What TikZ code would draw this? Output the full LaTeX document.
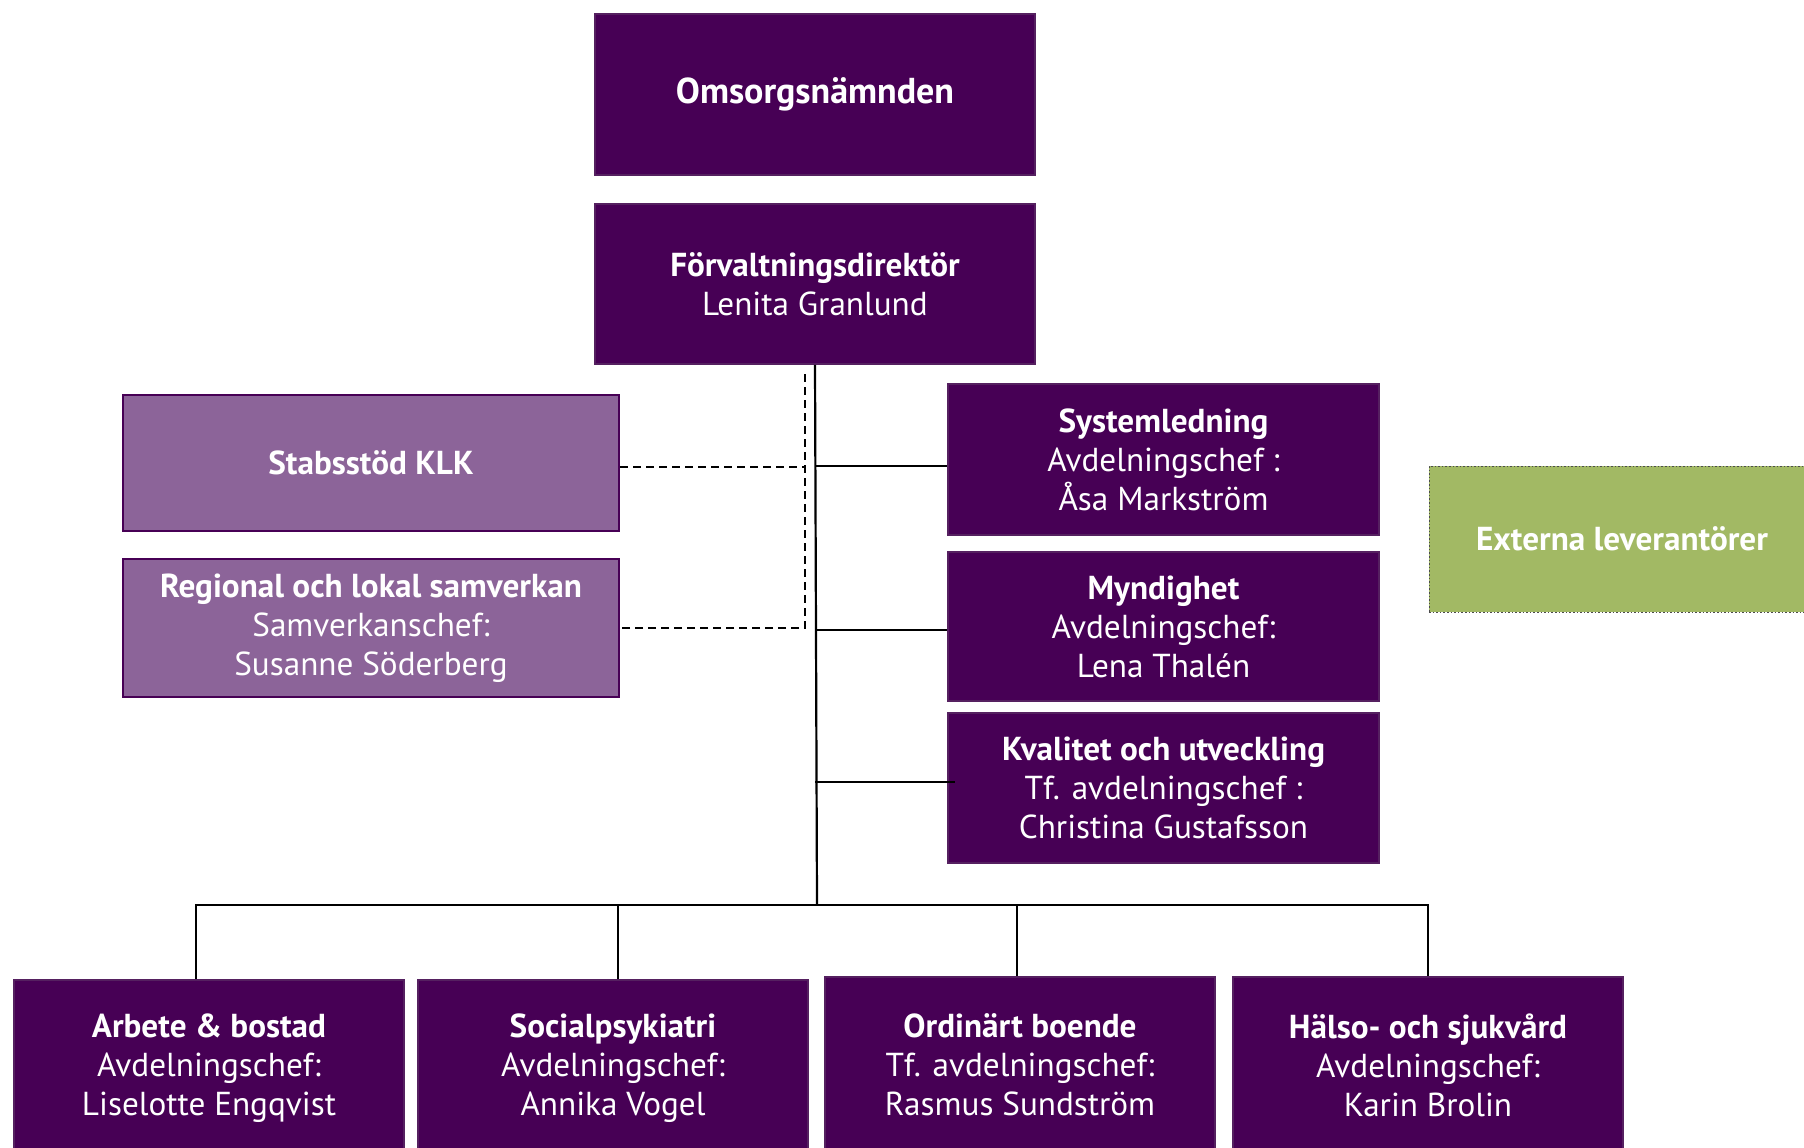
\documentclass[tikz,border=0pt]{standalone}
\usepackage{fontspec}
\setmainfont{PT Sans}
\definecolor{lila}{HTML}{470055}
\definecolor{ljuslila}{HTML}{8C6499}
\definecolor{gron}{HTML}{A2B964}
\begin{document}
\begin{tikzpicture}[x=0.5pt,y=-0.5pt,
  enhet/.style={draw=lila!75!gray,fill=lila,line width=0.8pt,text=white,
    align=center,inner sep=0pt,font=\fontsize{16.6}{19.5}\selectfont},
  stabsbox/.style={enhet,fill=ljuslila,draw=lila,line width=1.2pt},
  extern/.style={enhet,fill=gron,draw=black!70,densely dotted,line width=0.5pt},
  linje/.style={line width=1.1pt},
  streck/.style={line width=1pt,dash pattern=on 4pt off 2.5pt}]
  \pgfmathsetmacro{\bw}{195}
  \useasboundingbox (0,0) rectangle (1804,1147);
  \clip (0,0) rectangle (1804,1147);

  % ledning
  \node[enhet,minimum width=220pt,minimum height=80.5pt,
    font=\fontsize{18}{21}\selectfont] (omsorg) at (815,94.5)
    {\textbf{Omsorgsnämnden}};
  \node[enhet,minimum width=220pt,minimum height=80pt] (fdir) at (815,284)
    {\textbf{Förvaltningsdirektör}\\Lenita Granlund};

  % stab
  \node[stabsbox,minimum width=248pt,minimum height=68pt] (stab) at (371,463)
    {\textbf{Stabsstöd KLK}};
  \node[stabsbox,minimum width=248pt,minimum height=69pt] (region) at (371,628)
    {\textbf{Regional och lokal samverkan}\\Samverkanschef:\\Susanne Söderberg};

  % avdelningar till höger
  \node[enhet,minimum width=215.5pt,minimum height=75.5pt] (system) at (1163.5,459.5)
    {\textbf{Systemledning}\\Avdelningschef :\\Åsa Markström};
  \node[enhet,minimum width=215.5pt,minimum height=74.5pt] (myndighet) at (1163.5,626.5)
    {\textbf{Myndighet}\\Avdelningschef:\\Lena Thalén};
  \node[enhet,minimum width=215.5pt,minimum height=75pt] (kvalitet) at (1163.5,788)
    {\textbf{Kvalitet och utveckling}\\Tf. avdelningschef :\\Christina Gustafsson};
  \node[extern,minimum width=193pt,minimum height=73pt] (externa) at (1622,539)
    {\textbf{Externa leverantörer}};

  % verksamheter
  \node[enhet,minimum width=\bw pt,minimum height=88pt] (arbete) at (209,1068)
    {\textbf{Arbete \& bostad}\\Avdelningschef:\\Liselotte Engqvist};
  \node[enhet,minimum width=\bw pt,minimum height=88pt] (social) at (613,1068)
    {\textbf{Socialpsykiatri}\\Avdelningschef:\\Annika Vogel};
  \node[enhet,minimum width=\bw pt,minimum height=88pt] (ordinart) at (1020,1065)
    {\textbf{Ordinärt boende}\\Tf. avdelningschef:\\Rasmus Sundström};
  \node[enhet,minimum width=\bw pt,minimum height=88pt] (halso) at (1428,1065)
    {\textbf{Hälso- och sjukvård}\\Avdelningschef:\\Karin Brolin};

  \coordinate (bus) at (817,905);
  \coordinate (dtop) at (805,374);
  \coordinate (sysin) at ([yshift=-3.25pt]system.west);
  \coordinate (mynin) at ([yshift=-1.75pt]myndighet.west);
  \coordinate (kvain) at ([yshift=3pt,xshift=4pt]kvalitet.west);
  \coordinate (stabut) at ([yshift=-1.75pt]stab.east);
  \coordinate (arbin) at ([xshift=-6.5pt]arbete.north);
  \coordinate (socin) at ([xshift=2.5pt]social.north);
  \coordinate (ordin) at ([xshift=-1.5pt]ordinart.north);

  \draw[linje] (fdir.south) -- (bus);
  \draw[linje] (fdir.south |- sysin) -- (sysin);
  \draw[linje] (fdir.south |- mynin) -- (mynin);
  \draw[linje] (fdir.south |- kvain) -- (kvain);

  \draw[streck] (dtop) |- (region.east);
  \draw[streck] (stabut) -- (dtop |- stabut);

  \draw[linje] (arbin) |- (bus) -| (halso.north);
  \draw[linje] (socin) -- (socin |- bus);
  \draw[linje] (ordin) -- (ordin |- bus);
\end{tikzpicture}
\end{document}
